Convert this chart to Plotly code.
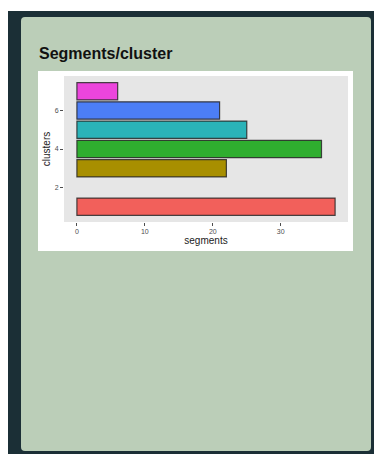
import plotly.graph_objects as go

# ---- data ----
clusters = [1, 3, 4, 5, 6, 7]
segments = [38, 22, 36, 25, 21, 6]
bar_colors = ["#F2605B", "#A88F00", "#2FAE2F", "#2AB3B8", "#4C7EF6", "#EC45DC"]
x_ticks = [0, 10, 20, 30]
y_ticks = [2, 4, 6]
title_text = "Segments/cluster"

# ---- layout geometry (pixels) ----
W, H = 374, 454
L, R, T, B = 64, 348, 76, 222
pw, ph = R - L, B - T


def px(x):
    return (x - L) / pw


def py(y):
    return (B - y) / ph


def rounded_path(x0, y0, x1, y1, r):
    rx, ry = r / pw, r / ph
    X0, X1 = px(x0), px(x1)
    Y0, Y1 = py(y0), py(y1)  # Y0 top (larger), Y1 bottom
    return (
        f"M {X0+rx} {Y0} L {X1-rx} {Y0} Q {X1} {Y0} {X1} {Y0-ry} "
        f"L {X1} {Y1+ry} Q {X1} {Y1} {X1-rx} {Y1} "
        f"L {X0+rx} {Y1} Q {X0} {Y1} {X0} {Y1+ry} "
        f"L {X0} {Y0-ry} Q {X0} {Y0} {X0+rx} {Y0} Z"
    )


fig = go.Figure()
fig.add_trace(go.Bar(
    x=segments, y=clusters, orientation="h", width=0.9,
    marker=dict(color=bar_colors, line=dict(color="rgba(40,40,40,0.85)", width=1.2)),
    hoverinfo="skip",
))

shapes = [
    dict(type="rect", xref="paper", yref="paper", x0=px(8), x1=px(380), y0=py(11), y1=py(460),
         fillcolor="#1B2F36", line=dict(width=0), layer="below"),
    dict(type="path", xref="paper", yref="paper", path=rounded_path(21, 17, 371, 451, 4),
         fillcolor="#BBCEB8", line=dict(width=0), layer="below"),
    dict(type="rect", xref="paper", yref="paper", x0=px(38), x1=px(353), y0=py(71), y1=py(251),
         fillcolor="#FFFFFF", line=dict(width=0), layer="below"),
    dict(type="rect", xref="paper", yref="paper", x0=0, x1=1, y0=0, y1=1,
         fillcolor="#E6E6E6", line=dict(width=0), layer="below"),
]

annotations = [
    dict(text=f"<b>{title_text}</b>", xref="paper", yref="paper", x=px(37), y=py(53),
         xanchor="left", yanchor="middle", showarrow=False,
         font=dict(size=16, color="#111111", family="Liberation Sans, Arial, sans-serif")),
]

fig.update_layout(
    width=W, height=H,
    margin=dict(l=L, r=W - R, t=T, b=H - B, pad=0),
    paper_bgcolor="#FFFFFF", plot_bgcolor="rgba(0,0,0,0)",
    showlegend=False,
    shapes=shapes, annotations=annotations,
    font=dict(family="Liberation Sans, Arial, sans-serif"),
    xaxis=dict(range=[-1.9, 39.9], tickvals=x_ticks, showgrid=False, zeroline=False,
               ticks="outside", ticklen=3, tickwidth=1, tickcolor="#4D4D4D",
               tickfont=dict(size=7, color="#4D4D4D"),
               title=dict(text="segments", font=dict(size=10, color="#222222"), standoff=2),
               showline=False, fixedrange=True),
    yaxis=dict(range=[0.205, 7.795], tickvals=y_ticks, showgrid=False, zeroline=False,
               ticks="outside", ticklen=3, tickwidth=1, tickcolor="#4D4D4D",
               tickfont=dict(size=7, color="#4D4D4D"),
               title=dict(text="clusters", font=dict(size=10, color="#222222"), standoff=2),
               showline=False, fixedrange=True),
)

fig.write_html(
    "out.html",
    config=dict(displayModeBar=False),
    post_script="document.body.style.margin='0';document.body.style.overflow='hidden';",
)
